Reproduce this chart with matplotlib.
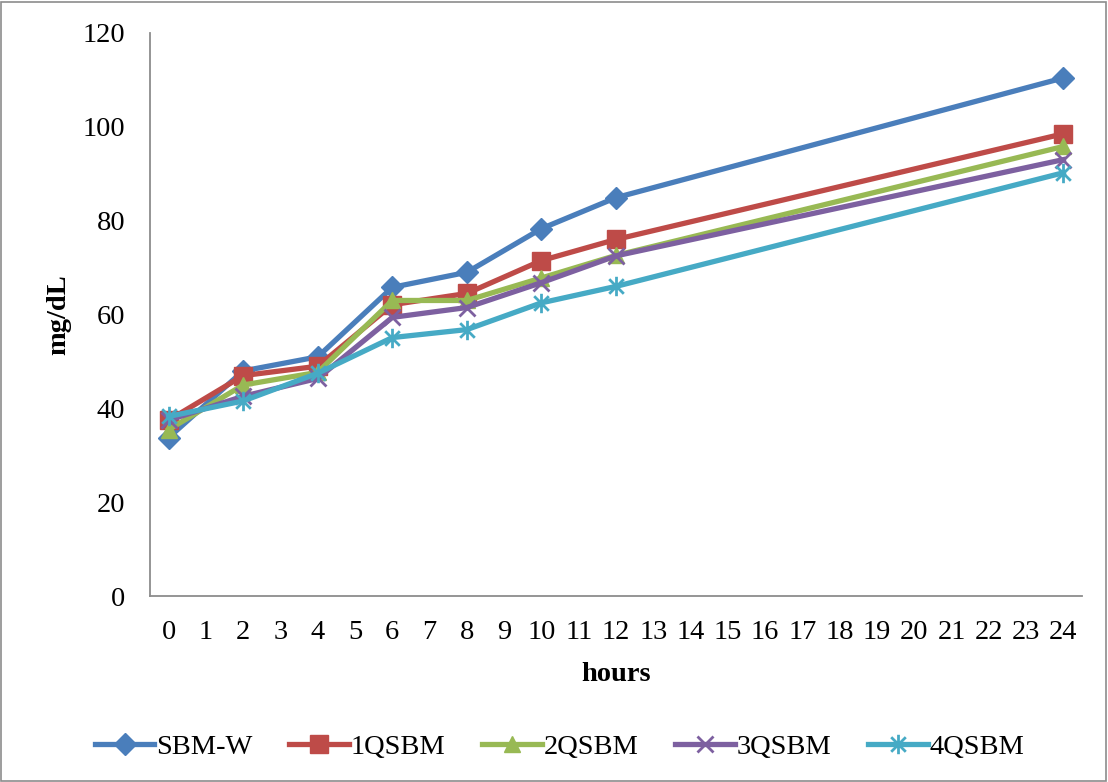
import matplotlib
matplotlib.use("Agg")
import matplotlib.pyplot as plt
from matplotlib.path import Path
from matplotlib.patches import Rectangle

hours = [0, 2, 4, 6, 8, 10, 12, 24]
series_names = ["SBM-W", "1QSBM", "2QSBM", "3QSBM", "4QSBM"]
sbm_w = [33.8, 48.0, 51.0, 65.8, 69.0, 78.3, 84.9, 110.4]
q1 = [37.5, 47.0, 49.0, 62.1, 64.5, 71.5, 76.0, 98.5]
q2 = [35.5, 45.0, 47.7, 63.0, 63.0, 67.8, 72.6, 95.8]
q3 = [37.5, 42.6, 46.4, 59.4, 61.5, 66.8, 72.5, 93.0]
q4 = [38.3, 41.6, 47.5, 55.1, 56.8, 62.5, 66.0, 90.2]
xticks = list(range(0, 25))
yticks = [0, 20, 40, 60, 80, 100, 120]

colors = ["#4A7EBB", "#BE4B48", "#98B954", "#7D60A0", "#46AAC5"]

star = Path([(0, -1), (0, 1), (-0.75, -0.75), (0.75, 0.75), (-0.75, 0.75), (0.75, -0.75)],
            [Path.MOVETO, Path.LINETO, Path.MOVETO, Path.LINETO, Path.MOVETO, Path.LINETO])
markers = ["D", "s", "^", "x", star]
msizes = [11, 13, 12, 11, 14]

plt.rcParams["font.family"] = ["Liberation Serif", "DejaVu Serif"]

fig = plt.figure(figsize=(11.08, 7.82), dpi=100)
ax = fig.add_axes([0.1354, 0.2375, 0.9765 - 0.1354, 0.958 - 0.2375])

for name, vals, c, m, ms in zip(series_names, [sbm_w, q1, q2, q3, q4], colors, markers, msizes):
    thin = (m == "x") or (m is star)
    ax.plot(hours, vals, color=c, lw=3.8, marker=m, markersize=ms,
            markeredgewidth=2 if thin else 1,
            markerfacecolor=c, markeredgecolor=c, label=name, solid_joinstyle="round")

ax.set_xlim(-0.5, 24.5)
ax.set_ylim(0, 120)
ax.set_xticks(xticks)
ax.set_yticks(yticks)
ax.tick_params(axis="x", length=0, labelsize=20.5, pad=17)
ax.tick_params(axis="y", length=0, labelsize=20.5, pad=18)
for s in ["top", "right"]:
    ax.spines[s].set_visible(False)
for s in ["left", "bottom"]:
    ax.spines[s].set_color("#8c8c8c")
    ax.spines[s].set_linewidth(1.3)

ax.set_xlabel("hours", fontsize=20.5, fontweight="bold", labelpad=12)
ax.set_ylabel("mg/dL", fontsize=20.5, fontweight="bold", labelpad=8)

leg = fig.legend(loc="center", bbox_to_anchor=(0.505, 0.045), ncol=5, frameon=False,
                 fontsize=20.5, handlelength=2.1, columnspacing=1.3, handletextpad=0.05)

fig.patches.append(Rectangle((0.001, 0.001), 0.997, 0.997, transform=fig.transFigure,
                             fill=False, edgecolor="#8c8c8c", linewidth=1.2))

fig.savefig("out.png", dpi=100)
